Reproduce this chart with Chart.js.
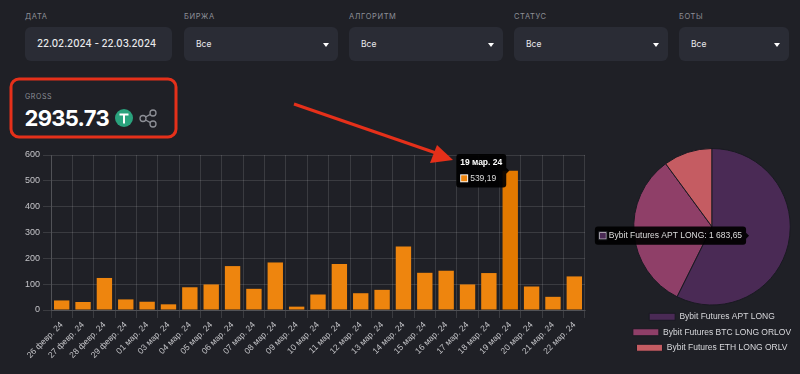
<!DOCTYPE html>
<html>
<head>
<meta charset="utf-8">
<script src="https://cdn.jsdelivr.net/npm/chart.js@4"></script>
<style>
  body { margin: 0; width: 800px; height: 374px; background: #1f2026; overflow: hidden; position: relative; font-family: Inter, sans-serif; }
  .lbl { position: absolute; top: 12px; font-size: 7.5px; letter-spacing: .6px; color: #8d8f96; }
  .sel { position: absolute; top: 27px; height: 34px; background: #2a2c35; border-radius: 6px; color: #e8e8ea; font-size: 8.5px; line-height: 34px; box-sizing: border-box; padding-left: 12px; }
  .sel:after { content: ""; position: absolute; right: 9px; top: 16px; border: 3px solid transparent; border-top: 4px solid #fff; border-bottom: 0; }
  .date { font-size: 9.8px; font-weight: 500; padding-left: 12px; }
  .date:after { display: none; }
  #gross { position: absolute; left: 25px; top: 92px; font-size: 7px; letter-spacing: .6px; color: #8d8f96; }
  #total { position: absolute; left: 24.5px; top: 102px; font-size: 22px; line-height: 32px; font-weight: 700; color: #fff; letter-spacing: -.7px; }
  canvas { display: block; }
  #barBox { position: absolute; left: 0; top: 145px; width: 590px; height: 229px; }
  #pieBox { position: absolute; left: 590px; top: 145px; width: 210px; height: 229px; }
  svg { position: absolute; left: 0; top: 0; pointer-events: none; }
</style>
</head>
<body>
<div class="lbl" style="left:25px">ДАТА</div>
<div class="lbl" style="left:184px">БИРЖА</div>
<div class="lbl" style="left:349px">АЛГОРИТМ</div>
<div class="lbl" style="left:514px">СТАТУС</div>
<div class="lbl" style="left:679px">БОТЫ</div>
<div class="sel date" style="left:25px;width:147px">22.02.2024 - 22.03.2024</div>
<div class="sel" style="left:184px;width:154px">Все</div>
<div class="sel" style="left:349px;width:154px">Все</div>
<div class="sel" style="left:514px;width:154px">Все</div>
<div class="sel" style="left:679px;width:110px">Все</div>
<div id="gross">GROSS</div>
<div id="total">2935.73</div>

<div id="barBox"><canvas id="bars"></canvas></div>
<div id="pieBox"><canvas id="pie"></canvas></div>

<svg width="800" height="374">
  <rect x="11" y="79" width="165" height="58" rx="8" fill="none" stroke="#e5301a" stroke-width="3"/>
  <line x1="294" y1="104" x2="436" y2="153" stroke="#e5301a" stroke-width="3"/>
  <polygon points="453,160 430,163 437,145" fill="#e5301a"/>
  <circle cx="124" cy="118" r="9" fill="#2aa27d"/>
  <path d="M119.5 113.5h9v2h-3.5v8h-2v-8h-3.5z" fill="#fff"/>
  <g fill="none" stroke="#8d8f96" stroke-width="1.3">
    <circle cx="153" cy="113" r="3"/><circle cx="143" cy="118.500" r="3"/><circle cx="153" cy="124" r="3"/>
    <path d="M145.600 117l4.800-2.600M145.600 120l4.800 2.600"/>
  </g>
</svg>

<script>
const days = ['26 февр. 24','27 февр. 24','28 февр. 24','29 февр. 24','01 мар. 24','03 мар. 24','04 мар. 24','05 мар. 24','06 мар. 24','07 мар. 24','08 мар. 24','09 мар. 24','10 мар. 24','11 мар. 24','12 мар. 24','13 мар. 24','14 мар. 24','15 мар. 24','16 мар. 24','17 мар. 24','18 мар. 24','19 мар. 24','20 мар. 24','21 мар. 24','22 мар. 24'];
const gross = [37,31,124,41,32,22,88,99,170,82,184,13,60,178,65,78,246,144,152,99,143,539.19,91,51,130];
const bots = ['Bybit Futures APT LONG','Bybit Futures BTC LONG ORLOV','Bybit Futures ETH LONG ORLV'];
const botGross = [1683.65,956,296.08];
const botColors = ['#4a2a55','#8f3f68','#c55c62'];
const yTicks = [0,100,200,300,400,500,600];

const gridColor = 'rgba(255,255,255,0.12)';
const tipFont = { family: '"Liberation Sans"', size: 8.5 };

const barChart = new Chart(document.getElementById('bars'), {
  type: 'bar',
  data: { labels: days, datasets: [{ label: '', data: gross, backgroundColor: '#ee850e' }] },
  options: {
    responsive: true,
    maintainAspectRatio: false,
    animation: false,
    locale: 'ru',
    events: [],
    layout: { padding: { top: 10, right: 5 } },
    scales: {
      x: {
        grid: { color: gridColor },
        border: { color: gridColor },
        afterFit: s => { s.height = 64; },
        ticks: { color: '#c4c4c8', font: { family: '"Liberation Sans"', size: 8.5 }, maxRotation: 45, minRotation: 45, autoSkip: false, padding: 2 }
      },
      y: {
        min: 0,
        max: 600,
        grid: { color: gridColor },
        border: { color: gridColor },
        afterFit: s => { s.width = 51; },
        afterBuildTicks: s => { s.ticks = yTicks.map(v => ({ value: v })); },
        ticks: { color: '#c4c4c8', font: { family: '"Liberation Sans"', size: 9 }, padding: 3 }
      }
    },
    plugins: {
      legend: { display: false },
      tooltip: {
        animation: false,
        xAlign: 'right',
        yAlign: 'center',
        backgroundColor: 'rgba(0,0,0,0.92)',
        titleColor: '#fff',
        bodyColor: '#ddd',
        titleFont: { family: '"Liberation Sans"', size: 8.5, weight: 'bold' },
        bodyFont: tipFont,
        padding: { x: 4, y: 4 },
        cornerRadius: 3,
        caretSize: 3,
        caretPadding: 1,
        boxWidth: 8,
        boxHeight: 8,
        titleMarginBottom: 5
      }
    }
  }
});

const pieChart = new Chart(document.getElementById('pie'), {
  type: 'pie',
  data: {
    labels: bots,
    datasets: [{ data: botGross, backgroundColor: botColors, hoverBackgroundColor: botColors, hoverOffset: 0, borderColor: '#1a1a22', hoverBorderColor: '#1a1a22', borderWidth: 1 }]
  },
  options: {
    responsive: true,
    maintainAspectRatio: false,
    animation: false,
    locale: 'ru',
    events: [],
    layout: { padding: { left: 34, top: 3, bottom: 12 } },
    plugins: {
      legend: {
        position: 'bottom',
        labels: { color: '#d8d8dc', font: { family: '"Liberation Sans"', size: 8.5 }, boxWidth: 26, boxHeight: 7, padding: 7 }
      },
      tooltip: {
        animation: false,
        xAlign: 'right',
        yAlign: 'center',
        backgroundColor: 'rgba(0,0,0,0.92)',
        bodyColor: '#ddd',
        bodyFont: tipFont,
        padding: { x: 4, y: 4 },
        cornerRadius: 3,
        caretSize: 3,
        caretPadding: 1,
        boxWidth: 8,
        boxHeight: 8,
        callbacks: {
          title: () => '',
          label: ctx => ctx.label + ': ' + ctx.formattedValue
        }
      }
    }
  }
});

function showTip(chart, index) {
  const active = [{ datasetIndex: 0, index: index }];
  chart.setActiveElements(active);
  chart.tooltip.setActiveElements(active, { x: 0, y: 0 });
  chart.update('none');
}
showTip(barChart, days.indexOf('19 мар. 24'));
showTip(pieChart, 0);
</script>
</body>
</html>
